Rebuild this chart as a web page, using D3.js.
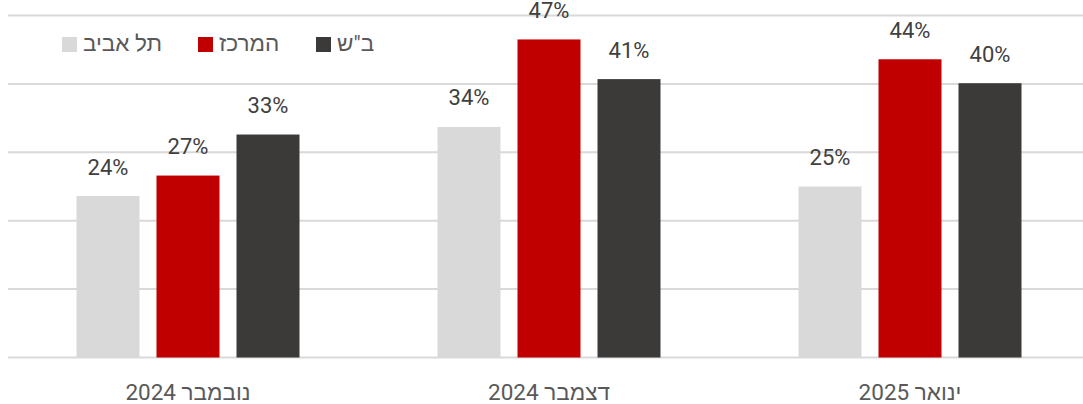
<!DOCTYPE html>
<html><head><meta charset="utf-8">
<script src="https://cdn.jsdelivr.net/npm/d3@7"></script>
<style>
html,body{margin:0;padding:0;background:#fff;}
svg{display:block;font-family:Roboto,"Liberation Sans","DejaVu Sans",sans-serif;}
</style></head>
<body><svg id="chart" width="1083" height="404"></svg>
<script>
const categories = ["נובמבר 2024", "דצמבר 2024", "ינואר 2025"];
const seriesNames = ["תל אביב", "המרכז", "ב\"ש"];
const seriesColors = ["#d9d9d9", "#c00000", "#3b3a39"];
const telAviv = [23.6, 33.7, 25.0];
const merkaz = [26.6, 46.5, 43.6];
const beerSheva = [32.6, 40.7, 40.1];
const yTicks = [0, 10, 20, 30, 40, 50];

const seriesValues = [telAviv, merkaz, beerSheva];
const svg = d3.select("#chart");

const x = d3.scaleBand().domain(categories).range([7.5, 1090.5]);
const xs = d3.scaleBand().domain(d3.range(3)).range([69, 292]).paddingInner(17/80).paddingOuter(0);
const y = d3.scaleLinear().domain([0, 50]).range([357.5, 15.5]);

// gridlines
svg.append("g").selectAll("line").data(yTicks).join("line")
  .attr("x1", 8).attr("x2", 1083)
  .attr("y1", d => y(d)).attr("y2", d => y(d))
  .attr("stroke", "#d9d9d9").attr("stroke-width", 2);

// bars
const groups = svg.append("g").selectAll("g").data(categories).join("g")
  .attr("transform", d => `translate(${x(d)},0)`);

groups.each(function(cat, ci) {
  const g = d3.select(this);
  seriesValues.forEach((vals, si) => {
    const v = vals[ci];
    g.append("rect")
      .attr("x", xs(si)).attr("width", xs.bandwidth())
      .attr("y", y(v)).attr("height", y(0) - y(v))
      .attr("fill", seriesColors[si]);
    g.append("text")
      .attr("x", xs(si) + xs.bandwidth() / 2)
      .attr("y", y(v) - 21.5)
      .attr("text-anchor", "middle")
      .attr("font-size", 22)
      .attr("fill", "#404040")
      .text(Math.round(v) + "%");
  });
});

// x axis labels
svg.append("g").selectAll("text").data(categories).join("text")
  .attr("x", d => x(d) + x.bandwidth() / 2)
  .attr("y", 400)
  .attr("text-anchor", "middle")
  .attr("font-size", 22.5)
  .attr("fill", "#595959")
  .text(d => d);

// legend
const legendX = [62, 198, 316];
const leg = svg.append("g");
seriesNames.forEach((name, i) => {
  leg.append("rect").attr("x", legendX[i]).attr("y", 37).attr("width", 15).attr("height", 15)
    .attr("fill", seriesColors[i]);
  leg.append("text").attr("x", legendX[i] + 21).attr("y", 51)
    .attr("font-size", 22.5).attr("fill", "#595959")
    .text(name);
});
</script></body></html>
